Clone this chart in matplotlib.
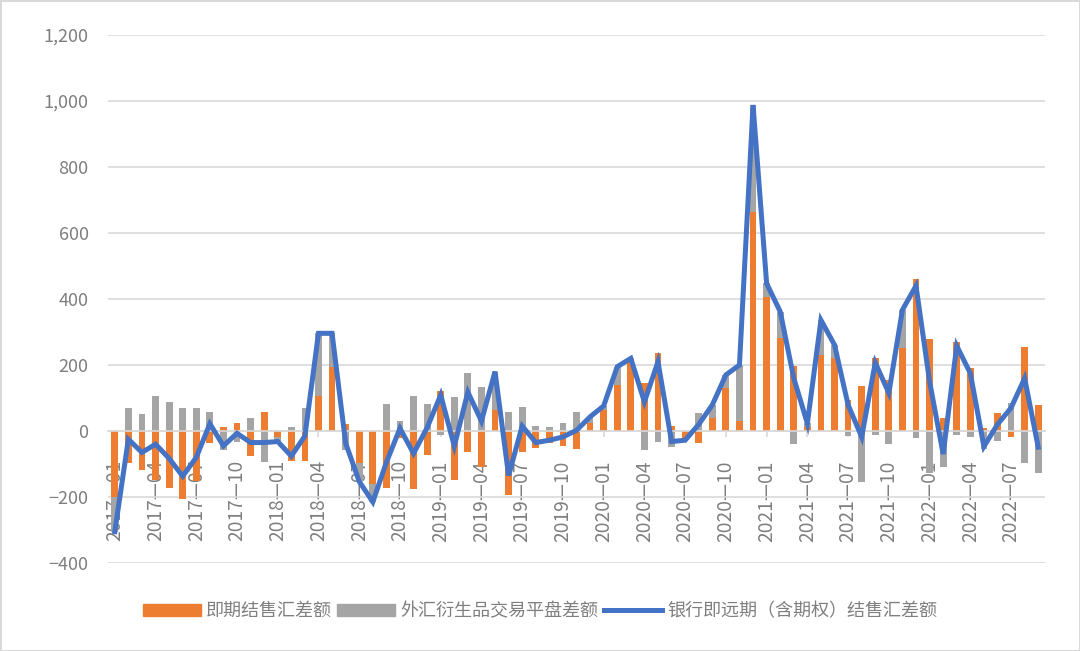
import numpy as np
import pandas as pd
import matplotlib
matplotlib.use('Agg')
import matplotlib.pyplot as plt
from matplotlib.patches import Patch
from matplotlib.lines import Line2D
from matplotlib.ticker import FuncFormatter

plt.rcParams['font.family'] = ['Noto Sans CJK SC', 'DejaVu Sans']

# monthly categories 2017-01 .. 2022-09
months = [p.strftime('%Y—%m') for p in pd.period_range('2017-01', '2022-09', freq='M')]

# 即期结售汇差额
spot = [-200, -98, -118, -148, -172, -207, -153, -35, 12, 25,
        -76, 57, -18, -90, -91, 107, 195, 21, -98, -160,
        -174, -22, -177, -73, 122, -148, -63, -108, 64, -194,
        -63, -52, -37, -45, -55, 23, 64, 139, 210, 146,
        237, 15, -20, -35, 40, 129, 31, 665, 407, 281,
        197, 13, 230, 220, 94, 136, 220, 155, 253, 460,
        278, 38, 270, 190, 8, 56, -17, 256, 79]
# 外汇衍生品交易平盘差额
deriv = [-105, 70, 53, 107, 89, 71, 71, 57, -57, -32,
         38, -95, -14, 13, 71, 189, 101, -58, -55, -55,
         81, 30, 107, 83, -13, 102, 177, 134, 116, 57,
         74, 15, 11, 25, 57, 20, 12, 56, 10, -58,
         -32, -47, -8, 54, 39, 41, 169, 323, 40, 81,
         -40, 10, 106, 41, -15, -154, -13, -40, 114, -20,
         -128, -108, -12, -17, -55, -30, 85, -98, -128]
# 银行即远期（含期权）结售汇差额
total = [-305, -25, -65, -40, -83, -137, -80, 22, -45, -7,
         -35, -35, -32, -76, -15, 296, 296, -37, -153, -215,
         -95, 8, -68, 10, 109, -46, 118, 30, 180, -135,
         15, -35, -28, -18, 2, 43, 76, 195, 220, 88,
         210, -32, -28, 20, 79, 170, 200, 988, 447, 362,
         160, 23, 336, 261, 79, -18, 207, 115, 367, 440,
         150, -70, 258, 175, -47, 20, 70, 160, -49]

names = ['即期结售汇差额', '外汇衍生品交易平盘差额', '银行即远期（含期权）结售汇差额']
c_orange, c_gray, c_blue = '#ED7D31', '#A5A5A5', '#4472C4'

x = np.arange(len(months))
spot = np.array(spot, dtype=float)
deriv = np.array(deriv, dtype=float)

# excel-style stacking: positives and negatives stack separately
pos_base = np.where(spot > 0, spot, 0)
neg_base = np.where(spot < 0, spot, 0)
deriv_bottom = np.where(deriv >= 0, pos_base, neg_base)

fig = plt.figure(figsize=(10.8, 6.51), dpi=100)
fig.patch.set_edgecolor('#d9d9d9')
fig.patch.set_linewidth(2)
ax = fig.add_axes([0.1, 0.1352, 0.8676, 0.811])

w = 0.5
ax.bar(x, spot, width=w, color=c_orange, zorder=2)
ax.bar(x, deriv, width=w, bottom=deriv_bottom, color=c_gray, zorder=2)
ax.plot(x, total, color=c_blue, lw=3.6, zorder=3, solid_joinstyle='miter')

ax.set_axisbelow(True)
ax.grid(axis='y', color='#d9d9d9', lw=1.2)
for s in ['top', 'right', 'left']:
    ax.spines[s].set_visible(False)
ax.spines['bottom'].set_position(('data', 0))
ax.spines['bottom'].set_color('#d9d9d9')
ax.spines['bottom'].set_linewidth(1.2)

ax.set_ylim(-400, 1200)
ax.set_yticks(range(-400, 1201, 200))
ax.yaxis.set_major_formatter(FuncFormatter(lambda v, p: f'{v:,.0f}'.replace('-', '\u2212')))
ax.set_xlim(-0.5, len(months) - 0.5)
ax.set_xticks(x[::3])
ax.set_xticklabels(months[::3], rotation=90, va='top', ha='center')

ax.tick_params(axis='y', length=0, pad=14, labelsize=13, labelcolor='#7f7f7f')
ax.tick_params(axis='x', length=4, width=1.2, color='#d9d9d9', pad=17,
               labelsize=13.8, labelcolor='#7f7f7f', labelrotation=90)

handles = [Patch(color=c_orange), Patch(color=c_gray), Line2D([], [], color=c_blue, lw=3.6)]
fig.legend(handles, names, loc='center', bbox_to_anchor=(0.5, 0.061), ncol=3,
           frameon=False, fontsize=13, handlelength=3.2, handletextpad=0.3,
           columnspacing=0.3, labelcolor='#7f7f7f')

fig.savefig('out.png', dpi=100)
